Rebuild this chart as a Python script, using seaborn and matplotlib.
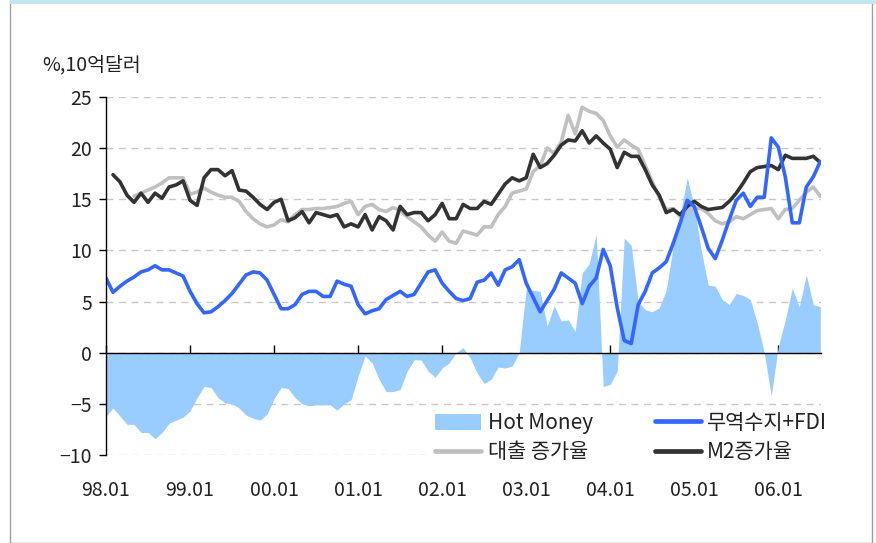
import numpy as np
import pandas as pd
import matplotlib
matplotlib.use('Agg')
import matplotlib.pyplot as plt
import seaborn as sns
from matplotlib.patches import Rectangle, Patch
from matplotlib.lines import Line2D

# monthly data, 98.01 ~ 06.07
TICK_LABELS = ['98.01', '99.01', '00.01', '01.01', '02.01', '03.01', '04.01', '05.01', '06.01']

hot_money = [-6.2, -5.4, -6.2, -7.0, -7.0, -7.8, -7.8, -8.4, -7.8, -6.9, -6.6, -6.3,
             -5.7, -4.4, -3.3, -3.4, -4.4, -4.9, -5.0, -5.4, -6.1, -6.4, -6.6, -6.0,
             -4.5, -3.4, -3.5, -4.4, -5.0, -5.2, -5.1, -5.1, -5.1, -5.6, -5.0, -4.6,
             -2.3, -0.3, -1.0, -2.6, -3.8, -3.8, -3.6, -1.8, -0.7, -0.7, -1.8, -2.4,
             -1.5, -1.0, 0.0, 0.5, -0.5, -2.0, -3.0, -2.6, -1.4, -1.5, -1.3, 0.0,
             6.2, 6.1, 6.0, 2.6, 4.6, 3.1, 3.2, 2.1, 7.8, 8.7, 11.6, -3.3,
             -3.1, -1.8, 11.2, 10.5, 5.0, 4.2, 4.0, 4.4, 6.1, 10.4, 13.5, 17.1,
             14.3, 10.0, 6.6, 6.5, 5.2, 4.7, 5.8, 5.6, 5.2, 2.9, 0.0, -4.2,
             0.6, 3.2, 6.3, 4.5, 7.6, 4.7, 4.5]

trade_fdi = [7.3, 5.9, 6.5, 7.0, 7.4, 7.9, 8.1, 8.5, 8.1, 8.1, 7.8, 7.5,
             6.0, 4.8, 3.9, 4.0, 4.5, 5.1, 5.8, 6.7, 7.6, 7.9, 7.8, 7.1,
             5.7, 4.3, 4.3, 4.7, 5.7, 6.0, 6.0, 5.5, 5.5, 7.0, 6.7, 6.5,
             4.7, 3.8, 4.1, 4.3, 5.2, 5.6, 6.0, 5.5, 5.7, 6.8, 7.9, 8.1,
             6.8, 6.0, 5.3, 5.1, 5.3, 6.9, 7.1, 7.8, 6.6, 8.1, 8.4, 9.1,
             6.8, 5.4, 4.0, 5.1, 6.2, 7.8, 7.3, 6.8, 4.8, 6.5, 7.3, 10.1,
             8.5, 4.4, 1.2, 0.9, 4.7, 6.0, 7.8, 8.3, 8.9, 10.7, 12.7, 14.9,
             14.3, 12.3, 10.2, 9.2, 11.0, 13.0, 14.9, 15.6, 14.3, 15.2, 15.2, 21.0,
             20.1, 17.2, 12.7, 12.7, 16.2, 17.2, 18.7]

loan_growth = [np.nan, np.nan, np.nan, np.nan, 15.3, 15.6, 15.9, 16.2, 16.6, 17.1, 17.1, 17.1,
               15.5, 15.7, 16.1, 15.7, 15.4, 15.2, 15.2, 14.8, 13.8, 13.1, 12.6, 12.3,
               12.5, 13.0, 12.8, 13.5, 14.0, 14.0, 14.1, 14.1, 14.2, 14.3, 14.6, 14.8,
               13.5, 14.3, 14.5, 14.0, 13.8, 14.2, 13.9, 13.3, 12.8, 12.3, 11.5, 10.9,
               11.8, 10.9, 10.7, 11.9, 11.7, 11.5, 12.3, 12.3, 13.5, 14.3, 15.6, 15.8,
               16.0, 17.7, 18.3, 20.0, 19.5, 20.6, 23.2, 21.4, 24.0, 23.6, 23.4, 22.7,
               21.2, 20.1, 20.8, 20.3, 19.9, 18.3, 16.7, 15.2, 14.0, 14.1, 13.3, 13.7,
               14.1, 14.1, 13.6, 12.9, 12.6, 12.8, 13.3, 13.1, 13.5, 13.9, 14.0, 14.1,
               13.1, 14.0, 14.1, 14.9, 15.7, 16.2, 15.3]

m2_growth = [np.nan, 17.4, 16.7, 15.4, 14.7, 15.6, 14.7, 15.6, 15.1, 16.2, 16.4, 16.8,
             14.9, 14.4, 17.1, 17.9, 17.9, 17.3, 17.8, 15.9, 15.8, 15.2, 14.5, 14.0,
             14.7, 15.0, 12.9, 13.2, 13.8, 12.7, 13.7, 13.5, 13.3, 13.5, 12.3, 12.6,
             12.3, 13.5, 12.0, 13.3, 12.9, 12.0, 14.3, 13.5, 13.7, 13.7, 12.9, 13.5,
             14.6, 13.1, 13.1, 14.5, 14.1, 14.1, 14.8, 14.5, 15.5, 16.5, 17.1, 16.8,
             17.1, 19.4, 18.1, 18.5, 19.3, 20.3, 20.8, 20.7, 21.7, 20.5, 21.2, 20.5,
             19.9, 18.1, 19.6, 19.2, 19.2, 17.9, 16.4, 15.4, 13.7, 14.0, 13.5, 14.3,
             14.8, 14.3, 14.0, 14.1, 14.2, 14.8, 15.6, 16.6, 17.7, 18.1, 18.2, 18.3,
             17.9, 19.3, 19.0, 19.0, 19.0, 19.2, 18.6]

LABELS = {'hot': 'Hot Money', 'trade': '무역수지+FDI', 'loan': '대출 증가율', 'm2': 'M2증가율'}
COLORS = {'hot': '#99CCFF', 'trade': '#3366FF', 'loan': '#C0C0C0', 'm2': '#333333'}

df = pd.DataFrame({'month': np.arange(len(hot_money)), 'hot': hot_money, 'trade': trade_fdi,
                   'loan': loan_growth, 'm2': m2_growth})
lines = df.melt(id_vars='month', value_vars=['loan', 'm2', 'trade'], var_name='series', value_name='value')

sns.set_theme(style='white')
plt.rcParams['font.family'] = ['Noto Sans CJK KR', 'DejaVu Sans']
plt.rcParams['axes.unicode_minus'] = True

fig = plt.figure(figsize=(8.76, 5.43), dpi=100)
ax = fig.add_axes([106 / 876, 1 - 455 / 543, (821 - 106) / 876, (455 - 97) / 543])

ax.fill_between(df['month'], 0, df['hot'], color=COLORS['hot'], lw=0, zorder=1)
sns.lineplot(data=lines, x='month', y='value', hue='series', hue_order=['loan', 'm2', 'trade'],
             palette=COLORS, linewidth=2.6, legend=False, ax=ax, zorder=2)

ax.set_xlim(0, 102.1)
ax.set_ylim(-10, 25)
ax.set_yticks(range(-10, 26, 5))
ax.set_xticks(range(0, 97, 12))
ax.set_xticklabels(TICK_LABELS)
ax.set_xlabel('')
ax.set_ylabel('')

ax.set_axisbelow(True)
ax.yaxis.grid(True, color='#C8C8C8', linestyle=(0, (5, 4)), linewidth=1)
ax.xaxis.grid(False)

for s in ['top', 'right']:
    ax.spines[s].set_visible(False)
ax.spines['left'].set_color('black')
ax.spines['left'].set_linewidth(1)
ax.spines['bottom'].set_position(('data', 0))
ax.spines['bottom'].set_color('black')
ax.spines['bottom'].set_linewidth(1)
ax.spines['bottom'].set_zorder(3)

ax.tick_params(axis='x', direction='in', length=6, width=1, color='black', pad=92,
               labelsize=14, labelcolor='#222222', bottom=True)
ax.tick_params(axis='y', direction='out', length=5, width=1, color='black', pad=5,
               labelsize=14, labelcolor='#222222', left=True)

handles = [Patch(facecolor=COLORS['hot'], edgecolor='none'),
           Line2D([], [], color=COLORS['loan'], lw=3.4),
           Line2D([], [], color=COLORS['trade'], lw=3.4),
           Line2D([], [], color=COLORS['m2'], lw=3.4)]
labels = [LABELS['hot'], LABELS['loan'], LABELS['trade'], LABELS['m2']]
leg = ax.legend(handles, labels, ncol=2, loc='lower left', bbox_to_anchor=(0.455, -0.035),
                fontsize=15, frameon=True, facecolor='white', edgecolor='none', framealpha=1,
                handlelength=2.2, handleheight=0.8, handletextpad=0.3, columnspacing=3.0,
                labelspacing=0.35, borderpad=0.2, borderaxespad=0)
for t in leg.get_texts():
    t.set_color('#222222')

fig.text(42 / 876, 1 - 65 / 543, '%,10억달러', fontsize=14, color='#222222', va='center', ha='left')

# outer frame
fig.add_artist(Rectangle((10 / 876, 0), (872 - 10) / 876, 1, transform=fig.transFigure,
                         fill=False, edgecolor='#A0A0A0', linewidth=1))
fig.add_artist(Rectangle((10 / 876, 1 - 4 / 543), 1 - 10 / 876, 4 / 543, transform=fig.transFigure,
                         facecolor='#C3E7F1', edgecolor='none'))

fig.savefig('out.png', dpi=100)
